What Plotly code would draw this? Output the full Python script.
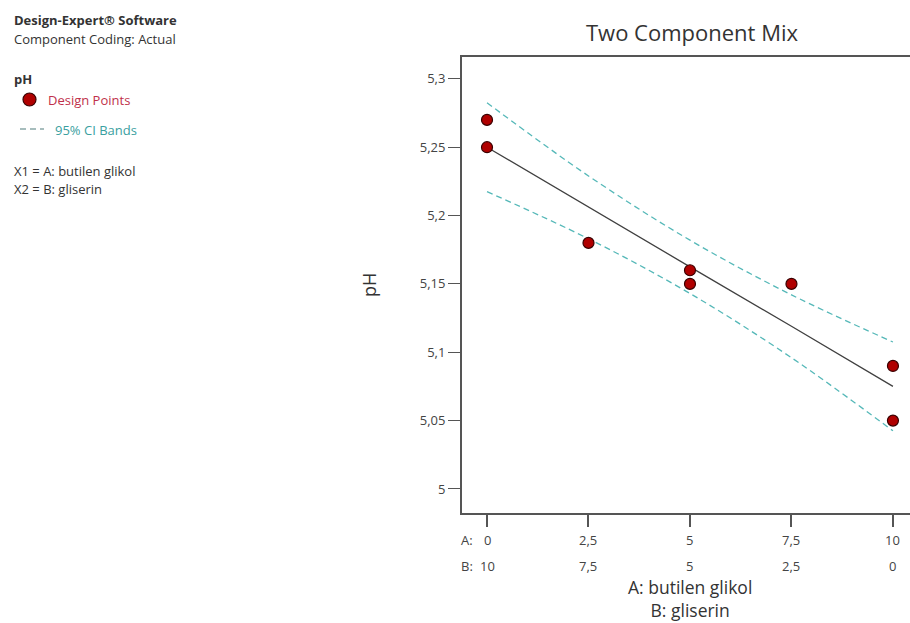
import plotly.graph_objects as go

# ---- data ----
pts_A = [0, 0, 2.5, 5, 5, 7.5, 10, 10]
pts_pH = [5.27, 5.25, 5.18, 5.16, 5.15, 5.15, 5.09, 5.05]

curve_A = [0, 2.5, 5, 7.5, 10]
fit_pH = [5.250, 5.206, 5.1625, 5.119, 5.075]
ci_upper = [5.2825, 5.229, 5.182, 5.142, 5.1075]
ci_lower = [5.2175, 5.183, 5.143, 5.096, 5.0425]

x_tick_A = [0, 2.5, 5, 7.5, 10]
x_tick_A_text = ["0", "2,5", "5", "7,5", "10"]
x_tick_B_text = ["10", "7,5", "5", "2,5", "0"]

y_ticks = [5, 5.05, 5.1, 5.15, 5.2, 5.25, 5.3]
y_tick_text = ["5", "5,05", "5,1", "5,15", "5,2", "5,25", "5,3"]

FONT = "Open Sans"
W, H = 910, 623
L, R, T, B = 462, 0, 57, 110
PW, PH = W - L - R, H - T - B


def px(x):
    return (x - L) / PW


def py(y):
    return (H - B - y) / PH


fig = go.Figure()

band_color = "#55b8b8"
fig.add_trace(go.Scatter(x=curve_A, y=ci_upper, mode="lines", line_shape="spline",
                         line=dict(color=band_color, width=1.3, dash="6px,4px"),
                         showlegend=False, hoverinfo="skip"))
fig.add_trace(go.Scatter(x=curve_A, y=ci_lower, mode="lines", line_shape="spline",
                         line=dict(color=band_color, width=1.3, dash="6px,4px"),
                         showlegend=False, hoverinfo="skip"))
fig.add_trace(go.Scatter(x=curve_A, y=fit_pH, mode="lines",
                         line=dict(color="#404040", width=1.3),
                         showlegend=False))
fig.add_trace(go.Scatter(x=pts_A, y=pts_pH, mode="markers",
                         marker=dict(size=11, color="#b00000",
                                     line=dict(color="#3a0000", width=1.2)),
                         showlegend=False, cliponaxis=False))

fig.update_xaxes(range=[-0.616, 10.42], showline=True, linecolor="#555555", linewidth=2,
                 mirror=True, ticks="outside", ticklen=12, tickwidth=1.5, tickcolor="#555555",
                 tickvals=x_tick_A, showticklabels=False, showgrid=False, zeroline=False)
fig.update_yaxes(range=[4.9824, 5.316], showline=True, linecolor="#555555", linewidth=2,
                 ticks="outside", ticklen=12, tickwidth=1, tickcolor="#555555",
                 tickvals=y_ticks, ticktext=y_tick_text, showgrid=False, zeroline=False,
                 tickfont=dict(family=FONT, size=13, color="#444444"))

ann = []
tf = dict(family=FONT, size=13, color="#444444")
# x tick labels (two rows)
for xv, ta, tb in zip(x_tick_A, x_tick_A_text, x_tick_B_text):
    ann.append(dict(x=xv, y=py(540), xref="x", yref="paper", text=ta, showarrow=False,
                    font=tf, yanchor="middle"))
    ann.append(dict(x=xv, y=py(566), xref="x", yref="paper", text=tb, showarrow=False,
                    font=tf, yanchor="middle"))
ann.append(dict(x=px(459), y=py(540), xref="paper", yref="paper", text="A:", showarrow=False,
                xanchor="left", yanchor="middle", font=tf))
ann.append(dict(x=px(459), y=py(566), xref="paper", yref="paper", text="B:", showarrow=False,
                xanchor="left", yanchor="middle", font=tf))
# axis title (two lines)
ann.append(dict(x=5, y=py(598), xref="x", yref="paper",
                text="A: butilen glikol<br>B: gliserin",
                showarrow=False, yanchor="middle", font=dict(family=FONT, size=17.5, color="#333333")))
ann.append(dict(x=px(369), y=py(285), xref="paper", yref="paper", text="pH", textangle=-90,
                xanchor="center", yanchor="middle",
                showarrow=False, font=dict(family=FONT, size=18, color="#333333")))
# title
ann.append(dict(x=px(692), y=py(32), xref="paper", yref="paper", text="Two Component Mix",
                xanchor="center", yanchor="middle",
                showarrow=False, font=dict(family=FONT, size=22, color="#333333")))


# left info panel
def lt(x, y, text, size=13, color="#333333", bold=False):
    ann.append(dict(x=px(x), y=py(y), xref="paper", yref="paper",
                    text=f"<b>{text}</b>" if bold else text, showarrow=False,
                    xanchor="left", yanchor="middle",
                    font=dict(family=FONT, size=size, color=color)))


lt(12, 20, "Design-Expert® Software", bold=True)
lt(12, 39, "Component Coding: Actual")
lt(12, 79, "pH", bold=True)
lt(46, 100, "Design Points", color="#c0304a")
lt(53, 130, "95% CI Bands", color="#3aa0a0")
lt(12, 171, "X1 = A: butilen glikol")
lt(12, 189, "X2 = B: gliserin")

shapes = [
    dict(type="circle", xref="paper", yref="paper", x0=px(23), x1=px(36),
         y0=py(106), y1=py(93), fillcolor="#b00000", line=dict(color="#3a0000", width=1.2)),
    dict(type="line", xref="paper", yref="paper", x0=px(20), x1=px(44),
         y0=py(129), y1=py(129), line=dict(color="#8aa8a8", width=1.3, dash="6px,4px")),
]

fig.update_layout(width=W, height=H, margin=dict(l=L, r=R, t=T, b=B),
                  plot_bgcolor="white", paper_bgcolor="white",
                  annotations=ann, shapes=shapes, showlegend=False)

fig.write_html("out.html", config={"displayModeBar": False},
               post_script="document.body.style.margin='0px';")
